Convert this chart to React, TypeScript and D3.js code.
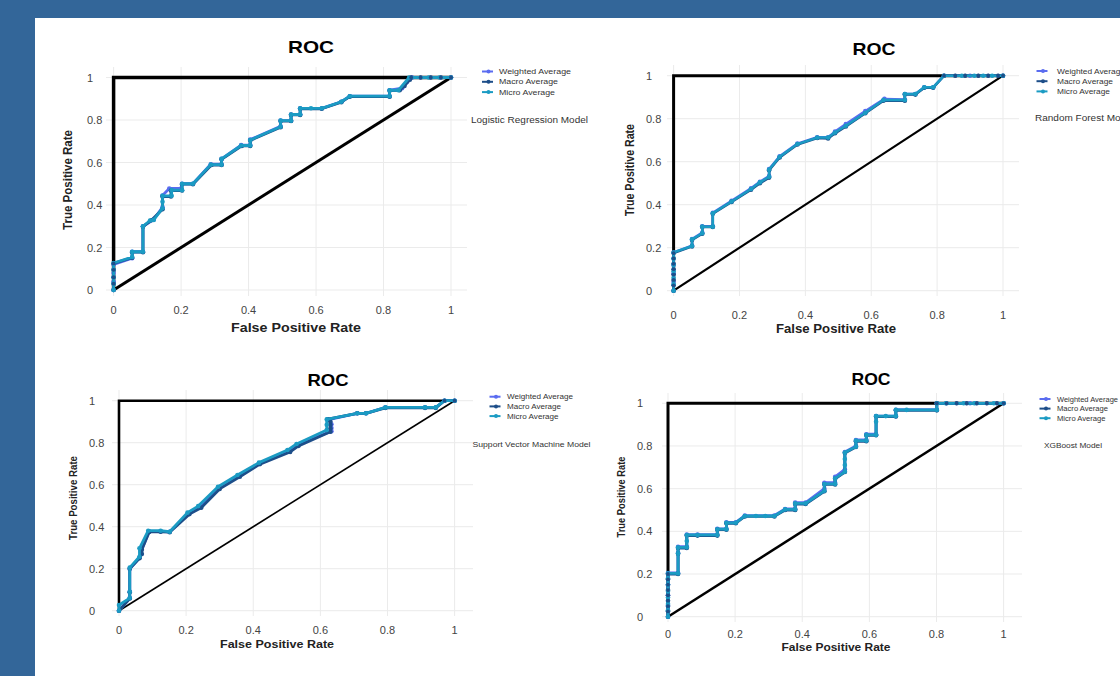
import React from "react";
import * as d3 from "d3";

type Pt = [number, number];

const tickValues = [0, 0.2, 0.4, 0.6, 0.8, 1];
const tickLabels = ["0", "0.2", "0.4", "0.6", "0.8", "1"];
const seriesNames = ["Weighted Average", "Macro Average", "Micro Average"];
const seriesColors = ["#5a6cf0", "#1d4e89", "#1b9bc3"];
const modelNames = [
  "Logistic Regression Model",
  "Random Forest Model",
  "Support Vector Machine Model",
  "XGBoost Model",
];

// Logistic regression
const lrWeighted: Pt[] = [[0,0],[0,0.04],[0,0.08],[0,0.12],[0.055,0.15],[0.055,0.18],[0.087,0.18],[0.087,0.3],[0.119,0.332],[0.145,0.39],[0.145,0.445],[0.165,0.478],[0.2,0.478],[0.203,0.5],[0.235,0.5],[0.288,0.592],[0.32,0.592],[0.32,0.617],[0.378,0.682],[0.405,0.682],[0.405,0.708],[0.495,0.77],[0.495,0.797],[0.526,0.797],[0.526,0.826],[0.553,0.826],[0.553,0.855],[0.617,0.855],[0.675,0.886],[0.7,0.912],[0.818,0.912],[0.818,0.94],[0.855,0.95],[0.87,0.98],[0.885,1],[1,1]];
const lrMacro: Pt[] = [[0,0],[0,0.03],[0,0.06],[0,0.095],[0,0.125],[0.055,0.152],[0.055,0.178],[0.087,0.178],[0.087,0.298],[0.112,0.328],[0.145,0.38],[0.145,0.44],[0.17,0.44],[0.17,0.468],[0.203,0.468],[0.203,0.498],[0.235,0.498],[0.29,0.588],[0.32,0.588],[0.32,0.615],[0.38,0.678],[0.405,0.678],[0.405,0.704],[0.495,0.766],[0.495,0.795],[0.526,0.795],[0.526,0.824],[0.553,0.824],[0.553,0.853],[0.617,0.853],[0.675,0.884],[0.7,0.91],[0.818,0.91],[0.818,0.938],[0.848,0.94],[0.862,0.96],[0.878,0.99],[0.882,1],[0.91,1],[0.94,1],[0.97,1],[1,1]];
const lrMicro: Pt[] = [[0,0],[0,0.03],[0,0.06],[0,0.095],[0,0.127],[0.055,0.155],[0.055,0.18],[0.087,0.18],[0.087,0.3],[0.108,0.327],[0.119,0.33],[0.145,0.385],[0.145,0.415],[0.145,0.443],[0.172,0.443],[0.172,0.47],[0.203,0.47],[0.203,0.5],[0.235,0.5],[0.288,0.59],[0.32,0.59],[0.32,0.617],[0.378,0.68],[0.405,0.68],[0.405,0.706],[0.495,0.768],[0.495,0.797],[0.526,0.797],[0.526,0.826],[0.553,0.826],[0.553,0.855],[0.585,0.855],[0.617,0.855],[0.675,0.886],[0.7,0.912],[0.818,0.912],[0.818,0.94],[0.844,0.94],[0.876,1],[0.934,1],[0.966,1],[1,1]];

// Random forest
const rfWeighted: Pt[] = [[0,0],[0,0.04],[0,0.08],[0,0.12],[0,0.178],[0.056,0.21],[0.056,0.24],[0.087,0.27],[0.087,0.3],[0.119,0.3],[0.119,0.362],[0.176,0.418],[0.235,0.476],[0.262,0.507],[0.29,0.533],[0.29,0.566],[0.322,0.625],[0.376,0.684],[0.436,0.714],[0.469,0.714],[0.49,0.74],[0.523,0.775],[0.582,0.836],[0.64,0.892],[0.702,0.889],[0.702,0.915],[0.734,0.915],[0.761,0.946],[0.788,0.946],[0.821,1],[0.9,1],[1,1]];
const rfMacro: Pt[] = [[0,0],[0,0.025],[0,0.05],[0,0.075],[0,0.1],[0,0.125],[0,0.15],[0,0.175],[0.056,0.206],[0.056,0.236],[0.087,0.265],[0.087,0.296],[0.119,0.296],[0.119,0.358],[0.176,0.413],[0.235,0.47],[0.262,0.5],[0.29,0.526],[0.29,0.56],[0.322,0.62],[0.376,0.68],[0.436,0.71],[0.469,0.708],[0.49,0.732],[0.523,0.764],[0.582,0.825],[0.637,0.884],[0.702,0.884],[0.702,0.912],[0.734,0.912],[0.761,0.944],[0.788,0.944],[0.821,1],[0.855,1],[0.885,1],[0.925,1],[0.955,1],[0.985,1],[1,1]];
const rfMicro: Pt[] = [[0,0],[0,0.03],[0,0.06],[0,0.09],[0,0.12],[0,0.15],[0,0.178],[0.056,0.208],[0.056,0.239],[0.087,0.267],[0.087,0.298],[0.119,0.298],[0.119,0.36],[0.176,0.415],[0.235,0.473],[0.262,0.504],[0.29,0.53],[0.29,0.564],[0.322,0.623],[0.376,0.682],[0.436,0.712],[0.469,0.712],[0.49,0.736],[0.523,0.767],[0.582,0.828],[0.637,0.887],[0.702,0.887],[0.702,0.915],[0.734,0.915],[0.761,0.946],[0.788,0.946],[0.821,1],[0.875,1],[0.913,1],[0.94,1],[0.967,1],[1,1]];

// Support vector machine
const svmWeighted: Pt[] = [[0,0],[0.032,0.06],[0.032,0.09],[0.032,0.2],[0.061,0.252],[0.065,0.28],[0.09,0.378],[0.124,0.378],[0.151,0.376],[0.208,0.462],[0.242,0.493],[0.298,0.585],[0.357,0.642],[0.42,0.702],[0.508,0.762],[0.532,0.79],[0.633,0.855],[0.633,0.87],[0.633,0.888],[0.625,0.91],[0.71,0.94],[0.736,0.94],[0.794,0.968],[0.912,0.968],[0.944,0.968],[0.97,1],[1,1]];
const svmMacro: Pt[] = [[0,0],[0.032,0.058],[0.032,0.088],[0.032,0.2],[0.061,0.25],[0.068,0.27],[0.068,0.29],[0.09,0.375],[0.124,0.376],[0.151,0.374],[0.21,0.46],[0.245,0.49],[0.3,0.58],[0.36,0.638],[0.42,0.698],[0.51,0.756],[0.535,0.785],[0.63,0.852],[0.63,0.868],[0.63,0.885],[0.63,0.9],[0.622,0.912],[0.71,0.94],[0.736,0.94],[0.794,0.966],[0.912,0.966],[0.944,0.966],[0.97,1],[1,1]];
const svmMicro: Pt[] = [[0,0],[0,0.027],[0.032,0.06],[0.032,0.09],[0.032,0.205],[0.061,0.257],[0.061,0.297],[0.087,0.381],[0.124,0.381],[0.151,0.376],[0.204,0.467],[0.236,0.498],[0.295,0.59],[0.353,0.646],[0.417,0.705],[0.502,0.765],[0.529,0.794],[0.619,0.86],[0.619,0.885],[0.619,0.911],[0.71,0.94],[0.736,0.94],[0.794,0.968],[0.912,0.968],[0.944,0.968],[0.97,1],[1,1]];

// XGBoost
const xgbWeighted: Pt[] = [[0,0],[0,0.05],[0,0.1],[0,0.15],[0,0.205],[0.03,0.205],[0.03,0.3],[0.03,0.328],[0.056,0.328],[0.056,0.385],[0.088,0.385],[0.147,0.385],[0.147,0.412],[0.174,0.412],[0.174,0.442],[0.202,0.442],[0.229,0.474],[0.317,0.474],[0.349,0.505],[0.379,0.505],[0.379,0.535],[0.41,0.535],[0.466,0.6],[0.466,0.628],[0.498,0.628],[0.498,0.655],[0.527,0.69],[0.527,0.772],[0.56,0.8],[0.56,0.828],[0.591,0.828],[0.591,0.855],[0.62,0.855],[0.62,0.94],[0.679,0.94],[0.679,0.97],[0.801,0.97],[0.801,1],[0.9,1],[1,1]];
const xgbMacro: Pt[] = [[0,0],[0,0.025],[0,0.05],[0,0.075],[0,0.1],[0,0.125],[0,0.15],[0,0.175],[0,0.2],[0.03,0.2],[0.03,0.295],[0.03,0.322],[0.056,0.322],[0.056,0.38],[0.088,0.38],[0.147,0.38],[0.147,0.408],[0.174,0.408],[0.174,0.438],[0.202,0.438],[0.229,0.47],[0.317,0.47],[0.349,0.5],[0.379,0.5],[0.379,0.528],[0.41,0.528],[0.466,0.588],[0.466,0.62],[0.498,0.62],[0.498,0.646],[0.527,0.678],[0.527,0.767],[0.56,0.795],[0.56,0.822],[0.591,0.822],[0.591,0.85],[0.62,0.85],[0.62,0.938],[0.679,0.938],[0.679,0.967],[0.801,0.967],[0.801,1],[0.83,1],[0.86,1],[0.89,1],[0.92,1],[0.95,1],[0.98,1],[1,1]];
const xgbMicro: Pt[] = [[0,0],[0,0.03],[0,0.06],[0,0.09],[0,0.12],[0,0.15],[0,0.18],[0,0.203],[0.03,0.203],[0.03,0.297],[0.03,0.325],[0.056,0.325],[0.056,0.355],[0.056,0.383],[0.088,0.383],[0.147,0.383],[0.147,0.41],[0.174,0.41],[0.174,0.44],[0.202,0.44],[0.229,0.472],[0.262,0.472],[0.29,0.472],[0.317,0.472],[0.349,0.503],[0.379,0.503],[0.379,0.531],[0.41,0.531],[0.466,0.59],[0.466,0.622],[0.498,0.622],[0.498,0.648],[0.527,0.68],[0.527,0.711],[0.527,0.739],[0.527,0.769],[0.56,0.797],[0.56,0.825],[0.591,0.825],[0.591,0.852],[0.62,0.852],[0.62,0.914],[0.62,0.94],[0.649,0.94],[0.679,0.94],[0.679,0.969],[0.711,0.969],[0.801,0.969],[0.801,1],[0.828,1],[0.881,1],[0.913,1],[0.971,1],[1,1]];

const curves: Pt[][][] = [
  [lrWeighted, lrMacro, lrMicro],
  [rfWeighted, rfMacro, rfMicro],
  [svmWeighted, svmMacro, svmMicro],
  [xgbWeighted, xgbMacro, xgbMicro],
];

// layout of the four plots, in page pixels
const layout = [
  { x0: 113.6, x1: 451, yTop: 77.5, yBot: 290, gL: 106, gR: 467, gT: 67, gB: 296,
    title: [311, 47, 46], xTitle: [296, 328, 130], yTitle: [68, 180, 100], axisFs: 12.5, titleFs: 17,
    yTickX: 87, xTickY: 310, leg: [487.5, 499, 71.5, 10.3], legFs: 8, legW: [72, 59, 56],
    model: [471, 120, 117], modelFs: 8.5, lw: 2.8, refW: 3.5, diagW: 3 },
  { x0: 673.6, x1: 1003, yTop: 75.7, yBot: 290.7, gL: 667, gR: 1019, gT: 65, gB: 296,
    title: [874, 49, 43], xTitle: [836, 329, 120], yTitle: [630, 170, 92], axisFs: 12.5, titleFs: 17,
    yTickX: 646, xTickY: 315, leg: [1042, 1057, 71, 10.2], legFs: 8, legW: [68, 56, 53],
    model: [1035, 118, 99], modelFs: 8.5, lw: 2.5, refW: 3, diagW: 2.2 },
  { x0: 119, x1: 454.6, yTop: 400.7, yBot: 610.7, gL: 112, gR: 473, gT: 390, gB: 616,
    title: [328, 380, 41], xTitle: [277, 644, 114], yTitle: [73, 498, 84], axisFs: 11.5, titleFs: 16.5,
    yTickX: 89, xTickY: 630, leg: [495, 507, 396.7, 9.7], legFs: 7.3, legW: [66, 54, 51.6],
    model: [472.5, 444, 118], modelFs: 7.5, lw: 2.8, refW: 2.6, diagW: 1.6 },
  { x0: 668, x1: 1003.6, yTop: 403.3, yBot: 616.7, gL: 662, gR: 1022, gT: 393, gB: 622,
    title: [871, 379, 39], xTitle: [836, 647, 109], yTitle: [621, 497, 81], axisFs: 11.5, titleFs: 16.5,
    yTickX: 637, xTickY: 634, leg: [1045, 1057, 399, 9.6], legFs: 7.3, legW: [61, 51, 48.6],
    model: [1044, 445, 58], modelFs: 7.5, lw: 2.8, refW: 3, diagW: 2.5 },
];

const FONT = "'Liberation Sans', Arial, sans-serif";

function RocPanel({ idx }: { idx: number }) {
  const L = layout[idx];
  const x = d3.scaleLinear().domain([0, 1]).range([L.x0, L.x1]);
  const y = d3.scaleLinear().domain([0, 1]).range([L.yBot, L.yTop]);
  const line = d3.line<Pt>().x((d) => x(d[0])).y((d) => y(d[1]));
  const refPath = line([[0, 0], [0, 1], [1, 1]] as Pt[]) || "";
  const diagPath = line([[0, 0], [1, 1]] as Pt[]) || "";
  // macro points lying on the perfect-classifier edges show up as dark dots over everything
  const edgeDots = curves[idx][1].filter((p) => (p[0] === 0 || p[1] === 1) && !(p[0] === 0 && p[1] === 0));

  return (
    <g>
      {tickValues.map((t) => (
        <g key={"g" + t}>
          <line x1={x(t)} x2={x(t)} y1={L.gT} y2={L.gB} stroke="#ebebeb" strokeWidth={1} />
          <line x1={L.gL} x2={L.gR} y1={y(t)} y2={y(t)} stroke="#ebebeb" strokeWidth={1} />
        </g>
      ))}
      <path d={refPath} fill="none" stroke="#000" strokeWidth={L.refW} strokeLinejoin="miter" />
      <path d={diagPath} fill="none" stroke="#000" strokeWidth={L.diagW} />
      {curves[idx].map((pts, s) => (
        <g key={"s" + s}>
          <path d={line(pts) || ""} fill="none" stroke={seriesColors[s]} strokeWidth={L.lw} strokeLinejoin="round" />
          {pts.map((p, i) => (
            <circle key={i} cx={x(p[0])} cy={y(p[1])} r={2.3} fill={seriesColors[s]} />
          ))}
        </g>
      ))}
      {edgeDots.map((p, i) => (
        <circle key={"e" + i} cx={x(p[0])} cy={y(p[1])} r={1.9} fill={seriesColors[1]} />
      ))}
      <text x={L.title[0]} y={L.title[1]} textAnchor="middle" dominantBaseline="central"
        fontSize={L.titleFs} fontWeight="bold" textLength={L.title[2]} lengthAdjust="spacingAndGlyphs">ROC</text>
      {tickValues.map((t, i) => (
        <text key={"xt" + t} x={x(t)} y={L.xTickY} textAnchor="middle" dominantBaseline="central"
          fontSize={11} fill="#444">{tickLabels[i]}</text>
      ))}
      {tickValues.map((t, i) => (
        <text key={"yt" + t} x={L.yTickX} y={y(t)} textAnchor="start" dominantBaseline="central"
          fontSize={11} fill="#444">{tickLabels[i]}</text>
      ))}
      <text x={L.xTitle[0]} y={L.xTitle[1]} textAnchor="middle" dominantBaseline="central"
        fontSize={L.axisFs} fontWeight="bold" fill="#222" textLength={L.xTitle[2]} lengthAdjust="spacingAndGlyphs">
        False Positive Rate
      </text>
      <text transform={`translate(${L.yTitle[0]},${L.yTitle[1]}) rotate(-90)`} textAnchor="middle"
        dominantBaseline="central" fontSize={L.axisFs - 0.5} fontWeight="bold" fill="#222"
        textLength={L.yTitle[2]} lengthAdjust="spacingAndGlyphs">
        True Positive Rate
      </text>
      {seriesNames.map((name, s) => {
        const ly = L.leg[2] + s * L.leg[3];
        return (
          <g key={"l" + s}>
            <line x1={L.leg[0] - 5.5} x2={L.leg[0] + 5.5} y1={ly} y2={ly} stroke={seriesColors[s]} strokeWidth={2} />
            <circle cx={L.leg[0] + 1} cy={ly} r={2} fill={seriesColors[s]} />
            <text x={L.leg[1]} y={ly} dominantBaseline="central" fontSize={L.legFs} fill="#333"
              textLength={L.legW[s]} lengthAdjust="spacingAndGlyphs">{name}</text>
          </g>
        );
      })}
      <text x={L.model[0]} y={L.model[1]} dominantBaseline="central" fontSize={L.modelFs} fill="#333"
        textLength={L.model[2]} lengthAdjust="spacingAndGlyphs">{modelNames[idx]}</text>
    </g>
  );
}

export default function App() {
  return (
    <svg width={1120} height={676} style={{ position: "absolute", left: 0, top: 0 }} fontFamily={FONT}>
      <rect x={0} y={0} width={1120} height={676} fill="#336699" />
      <rect x={35} y={18} width={1085} height={658} fill="#ffffff" />
      {layout.map((_, i) => (
        <RocPanel key={i} idx={i} />
      ))}
    </svg>
  );
}
